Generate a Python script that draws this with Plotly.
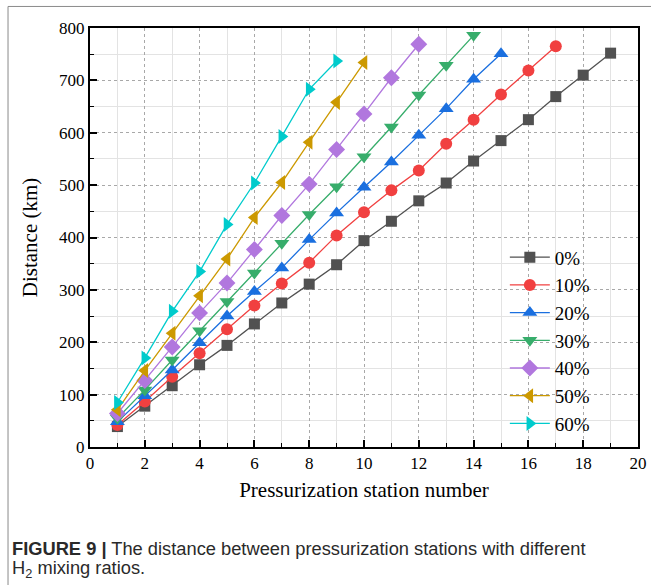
import plotly.graph_objects as go

stations_0 = list(range(1, 20))
dist_0 = [39, 78, 117, 157, 194, 235, 275, 311, 348, 394, 431, 470, 504, 546, 585, 625, 669, 710, 752]
stations_10 = list(range(1, 18))
dist_10 = [42, 87, 134, 179, 225, 270, 312, 352, 404, 448, 490, 528, 579, 625, 673, 719, 765]
stations_20 = list(range(1, 16))
dist_20 = [48, 98, 147, 199, 250, 297, 342, 396, 447, 496, 544, 595, 646, 702, 751]
stations_30 = list(range(1, 15))
dist_30 = [55, 109, 166, 222, 278, 332, 389, 444, 497, 554, 611, 672, 729, 786]
stations_40 = list(range(1, 13))
dist_40 = [64, 127, 191, 256, 313, 377, 442, 502, 568, 636, 705, 769]
stations_50 = list(range(1, 11))
dist_50 = [71, 146, 217, 289, 359, 438, 505, 582, 658, 734]
stations_60 = list(range(1, 10))
dist_60 = [85, 170, 259, 335, 425, 504, 593, 683, 737]

labels = ["0%", "10%", "20%", "30%", "40%", "50%", "60%"]
xs = [stations_0, stations_10, stations_20, stations_30, stations_40, stations_50, stations_60]
ys = [dist_0, dist_10, dist_20, dist_30, dist_40, dist_50, dist_60]
colors = ["#515151", "#F14040", "#1A6FDF", "#37AD6B", "#B177DE", "#CC9900", "#00CBCC"]
symbols = ["square", "circle", "triangle-up", "triangle-down", "diamond", "triangle-left", "triangle-right"]
sizes = [11, 12, 13, 13, 13, 13, 13]

fig = go.Figure()
for lab, x, y, c, s, sz in zip(labels, xs, ys, colors, symbols, sizes):
    fig.add_trace(go.Scatter(
        x=x, y=y, name=lab, mode="lines+markers",
        line=dict(color=c, width=1.3),
        marker=dict(symbol=s, size=sz, color=c, line=dict(width=0)),
    ))

serif = "Liberation Serif, Times New Roman, serif"
axis_common = dict(
    showline=True, linecolor="black", linewidth=2, mirror=True,
    ticks="inside", ticklen=7, tickwidth=1.5, tickcolor="black",
    showgrid=True, gridcolor="#a8a8a8", griddash="dot", gridwidth=1,
    zeroline=False, automargin=False,
    tickfont=dict(family=serif, size=17, color="black"),
)
fig.update_xaxes(
    range=[0, 20], dtick=2, tick0=0,
    title=dict(text="Pressurization station number", font=dict(family=serif, size=21, color="black"), standoff=10),
    minor=dict(dtick=1, ticks="inside", ticklen=4, tickwidth=1.2, tickcolor="black",
               showgrid=True, gridcolor="#e3e3e3", griddash="solid", gridwidth=1),
    **axis_common,
)
fig.update_yaxes(
    range=[0, 800], dtick=100, tick0=0,
    title=dict(text="Distance (km)", font=dict(family=serif, size=21, color="black"), standoff=16),
    minor=dict(dtick=50, ticks="inside", ticklen=4, tickwidth=1.2, tickcolor="black",
               showgrid=True, gridcolor="#e3e3e3", griddash="solid", gridwidth=1),
    **axis_common,
)

# figure frame lines
fig.add_shape(type="line", xref="paper", yref="paper", x0=-0.1496, x1=1.03, y0=1.0514, y1=1.0514,
              line=dict(color="#8a8a8a", width=1))
fig.add_shape(type="line", xref="paper", yref="paper", x0=-0.1496, x1=-0.1496, y0=1.0514, y1=-0.34,
              line=dict(color="#8a8a8a", width=1))

sans = "Liberation Sans, Arial, sans-serif"
fig.add_annotation(xref="paper", yref="paper", x=-0.146, y=-0.2413, xanchor="left", yanchor="middle",
                   showarrow=False, align="left",
                   text="<b>FIGURE 9 |</b> The distance between pressurization stations with different",
                   font=dict(family=sans, size=18.3, color="#2a2a2a"))
fig.add_annotation(xref="paper", yref="paper", x=-0.146, y=-0.291, xanchor="left", yanchor="middle",
                   showarrow=False, align="left",
                   text="H<sub>2</sub> mixing ratios.",
                   font=dict(family=sans, size=18.3, color="#2a2a2a"))

fig.update_layout(
    width=651, height=585,
    margin=dict(l=90, r=13, t=28, b=138),
    paper_bgcolor="white", plot_bgcolor="white",
    showlegend=True,
    legend=dict(x=0.757, y=0.498, xanchor="left", yanchor="top",
                bgcolor="rgba(0,0,0,0)", borderwidth=0,
                font=dict(family=serif, size=19, color="black"),
                itemwidth=40, tracegroupgap=0),
)

fig.write_html("out.html")
